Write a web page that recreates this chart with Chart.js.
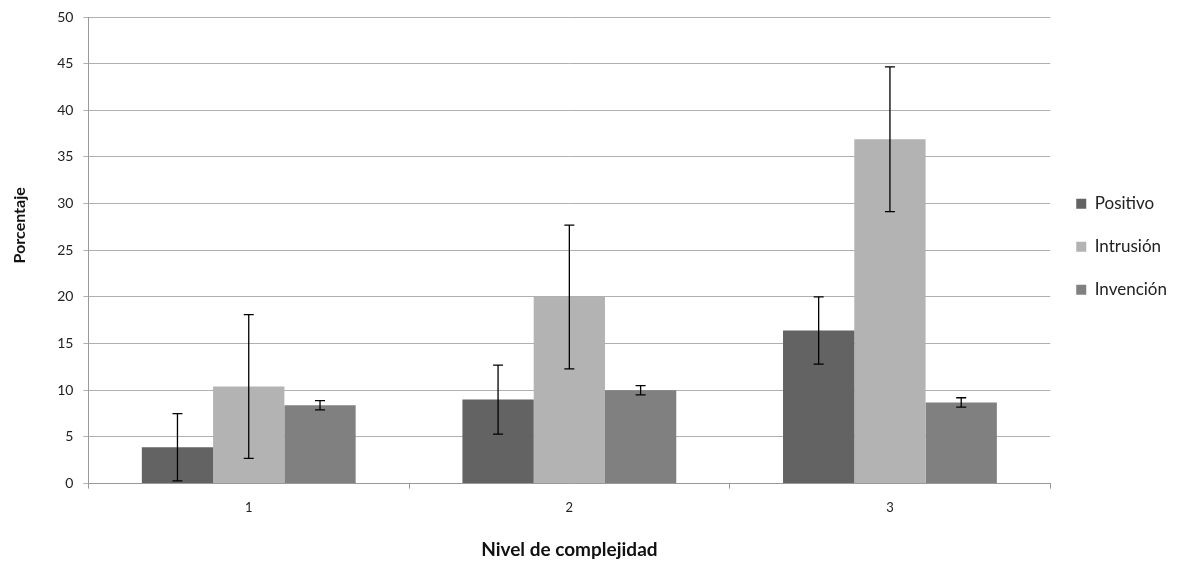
<!DOCTYPE html>
<html>
<head>
<meta charset="utf-8">
<script src="https://cdn.jsdelivr.net/npm/chart.js@4"></script>
<style>
  html, body { margin: 0; padding: 0; background: #fff; }
  #wrap { width: 1183px; height: 565px; }
</style>
</head>
<body>
<div id="wrap"><canvas id="chart"></canvas></div>
<script>
const categories = ['1', '2', '3'];
const positivo = [3.9, 9.0, 16.4];
const intrusion = [10.4, 20.0, 36.9];
const invencion = [8.4, 10.0, 8.7];
const errPositivo = [3.6, 3.7, 3.6];
const errIntrusion = [7.7, 7.7, 7.75];
const errInvencion = [0.5, 0.5, 0.5];

const font = 'Lato, "Open Sans", sans-serif';
const yTitleText = 'Porcentaje';

// draws the error whiskers on top of each bar
const errorBars = {
  id: 'errorBars',
  afterDatasetsDraw(chart) {
    const ctx = chart.ctx;
    const y = chart.scales.y;
    ctx.save();
    ctx.strokeStyle = '#000';
    ctx.lineWidth = 1.3;
    chart.data.datasets.forEach((ds, i) => {
      const meta = chart.getDatasetMeta(i);
      meta.data.forEach((bar, j) => {
        const v = ds.data[j], e = ds.err[j];
        const top = y.getPixelForValue(v + e);
        const bot = y.getPixelForValue(v - e);
        ctx.beginPath();
        ctx.moveTo(bar.x, top); ctx.lineTo(bar.x, bot);
        ctx.moveTo(bar.x - 5, top); ctx.lineTo(bar.x + 5, top);
        ctx.moveTo(bar.x - 5, bot); ctx.lineTo(bar.x + 5, bot);
        ctx.stroke();
      });
    });
    ctx.restore();
  }
};

// y title sits a little above the middle in the original, so draw it by hand
const yTitle = {
  id: 'yTitle',
  afterDraw(chart) {
    const ctx = chart.ctx;
    const area = chart.chartArea;
    ctx.save();
    ctx.translate(20, (area.top + area.bottom) / 2 - 25);
    ctx.rotate(-Math.PI / 2);
    ctx.font = 'bold 16px ' + font;
    ctx.fillStyle = '#111';
    ctx.textAlign = 'center';
    ctx.textBaseline = 'middle';
    ctx.fillText(yTitleText, 0, 0);
    ctx.restore();
  }
};

new Chart(document.getElementById('chart'), {
  type: 'bar',
  data: {
    labels: categories,
    datasets: [
      { label: 'Positivo', data: positivo, err: errPositivo, backgroundColor: '#636363' },
      { label: 'Intrusión', data: intrusion, err: errIntrusion, backgroundColor: '#b3b3b3' },
      { label: 'Invención', data: invencion, err: errInvencion, backgroundColor: '#808080' }
    ]
  },
  options: {
    responsive: true,
    maintainAspectRatio: false,
    animation: false,
    categoryPercentage: 0.667,
    barPercentage: 1,
    layout: { padding: { top: 4, left: 8, bottom: 0, right: 6 } },
    plugins: {
      legend: {
        position: 'right',
        align: 'start',
        // blank title only pushes the items down to where they sit in the original
        title: { display: true, text: ' ', font: { size: 1 }, padding: { top: 164, bottom: 0 } },
        labels: {
          font: { family: font, size: 17 },
          color: '#222',
          boxWidth: 10,
          boxHeight: 10,
          padding: 26
        }
      },
      tooltip: { enabled: false }
    },
    scales: {
      x: {
        grid: { drawOnChartArea: false, color: '#999', tickLength: 5 },
        border: { color: '#999' },
        ticks: { font: { family: font, size: 13 }, color: '#222', padding: 11 },
        title: { display: true, text: 'Nivel de complejidad', font: { family: font, size: 19, weight: 'bold' }, color: '#111', padding: { top: 12 } }
      },
      y: {
        min: 0,
        max: 50,
        ticks: { stepSize: 5, font: { family: font, size: 14, lineHeight: 1 }, color: '#222', padding: 10 },
        grid: { color: '#b0b0b0', tickLength: 5 },
        border: { color: '#999' },
        // keeps the room for the hand-drawn title
        title: { display: true, text: yTitleText, font: { family: font, size: 16, weight: 'bold' }, color: 'rgba(0,0,0,0)', padding: { bottom: 16 } }
      }
    }
  },
  plugins: [errorBars, yTitle]
});
</script>
</body>
</html>
